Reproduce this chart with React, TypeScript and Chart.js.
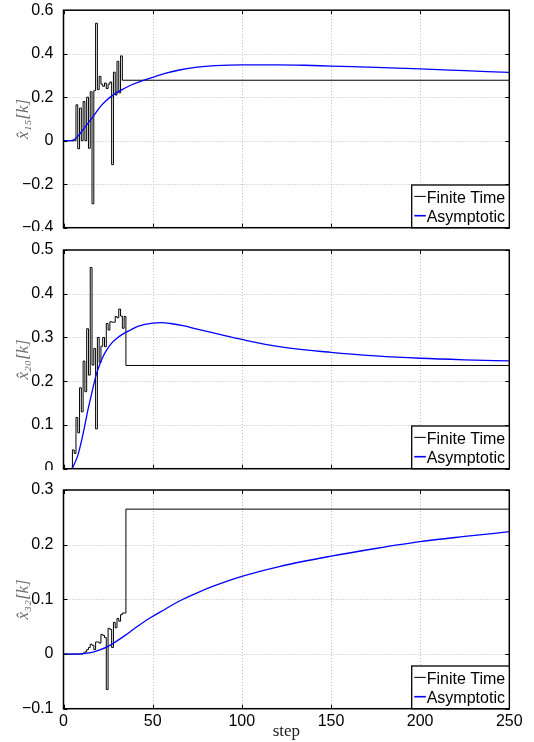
import React, { useEffect, useRef } from "react";
import { Chart, registerables } from "chart.js";

Chart.register(...registerables);

// ---------- data ----------
const xTickValues = [0, 50, 100, 150, 200, 250];
const stepMax = 250;

// Finite-time estimate, one value per step k = 0, 1, 2, ...; afterwards it stays at the settled value
const finite15 = [
  0, 0, 0, 0, 0, 0, 0, 0.165, -0.037, 0.15, 0.0, 0.18, 0.0, 0.2, -0.035, 0.225, -0.29,
  0.23, 0.54, 0.235, 0.296, 0.26, 0.25, 0.265, 0.24, 0.26, 0.27, -0.11, 0.315, 0.21,
  0.365, 0.22, 0.39,
];
const settled15 = 0.278;

const finite20 = [
  0, 0, 0, 0, 0, 0.043, 0.035, 0.117, 0.082, 0.185, 0.13, 0.246, 0.176, 0.32, 0.214,
  0.46, 0.237, 0.275, 0.091, 0.3, 0.243, 0.28, 0.3, 0.279, 0.332, 0.317, 0.336, 0.335,
  0.335, 0.348, 0.345, 0.365, 0.349, 0.321, 0.348,
];
const settled20 = 0.236;

const finite32 = [
  0, 0, 0, 0, 0, 0, 0, 0, 0, 0, 0, 0.002, 0.004, 0.008, 0.012, 0.018, 0.016, 0.008,
  0.022, 0.022, 0.02, 0.036, 0.034, 0.03, -0.065, 0.047, 0.045, 0.012, 0.058, 0.048,
  0.065, 0.06, 0.072, 0.075, 0.075,
];
const settled32 = 0.265;

// Asymptotic estimate, sampled at the steps listed
const asymSteps15 = [0, 4, 6, 8, 10, 12, 15, 18, 21, 24, 27, 30, 34, 38, 44, 50, 57, 65, 75, 85, 100, 120, 135, 150, 175, 200, 225, 250];
const asym15 = [0, 0, 0.005, 0.02, 0.04, 0.062, 0.093, 0.127, 0.16, 0.185, 0.205, 0.222, 0.24, 0.256, 0.275, 0.291, 0.31, 0.325, 0.338, 0.345, 0.349, 0.349, 0.347, 0.343, 0.337, 0.33, 0.322, 0.314];

const asymSteps20 = [0, 4, 5, 6, 8, 10, 12, 14, 16, 18, 20, 22, 24, 27, 30, 33, 37, 42, 50, 55, 60, 67, 75, 87, 100, 121, 150, 175, 200, 225, 250];
const asym20 = [0, 0, 0.002, 0.01, 0.03, 0.062, 0.1, 0.14, 0.175, 0.21, 0.235, 0.255, 0.27, 0.287, 0.298, 0.307, 0.316, 0.326, 0.333, 0.334, 0.332, 0.327, 0.319, 0.3075, 0.2955, 0.279, 0.266, 0.258, 0.2525, 0.249, 0.2465];

const asymSteps32 = [0, 8, 12, 16, 20, 25, 30, 35, 40, 48, 57, 65, 75, 84, 100, 121, 150, 175, 200, 225, 250];
const asym32 = [0, 0, 0.001, 0.003, 0.007, 0.014, 0.024, 0.035, 0.047, 0.065, 0.082, 0.097, 0.112, 0.124, 0.142, 0.16, 0.179, 0.193, 0.2055, 0.215, 0.2237];

const legendLabels = ["Finite Time", "Asymptotic"];
const seriesColors = ["#000000", "#0000ff"];

// ---------- layout ----------
const W = 534;
const AREA_LEFT = 63.5;
const AREA_RIGHT = 509.3;
const TICK_FONT = "'Liberation Sans', Arial, Helvetica, sans-serif";
const SERIF = "'Liberation Serif', 'Times New Roman', serif";

type Panel = {
  top: number;
  height: number;
  areaTop: number;
  areaBottom: number;
  yMin: number;
  yMax: number;
  yStep: number;
  yLabel: string;
  finite: number[];
  settled: number;
  asymK: number[];
  asym: number[];
  showX: boolean;
};

const panels: Panel[] = [
  { top: 0, height: 231, areaTop: 10.2, areaBottom: 227.7, yMin: -0.4, yMax: 0.6, yStep: 0.2, yLabel: "x\u0302\u2081\u2085[k]", finite: finite15, settled: settled15, asymK: asymSteps15, asym: asym15, showX: false },
  { top: 240, height: 230, areaTop: 10, areaBottom: 228.7, yMin: 0, yMax: 0.5, yStep: 0.1, yLabel: "x\u0302\u2082\u2080[k]", finite: finite20, settled: settled20, asymK: asymSteps20, asym: asym20, showX: false },
  { top: 480, height: 262, areaTop: 10, areaBottom: 228.7, yMin: -0.1, yMax: 0.3, yStep: 0.1, yLabel: "x\u0302\u2083\u2082[k]", finite: finite32, settled: settled32, asymK: asymSteps32, asym: asym32, showX: true },
];

const fmt = (v: number) => {
  if (Math.abs(v) < 1e-9) return "0";
  const s = Math.abs(v).toFixed(1);
  return v < 0 ? "\u2212" + s : s;
};

const matlabPlugin = {
  id: "matlabBox",
  beforeDatasetsDraw(chart: any) {
    const { ctx, chartArea: a, scales } = chart;
    const xs = scales.x;
    const ys = scales.y;
    ctx.save();
    ctx.strokeStyle = "#bdbdbd";
    ctx.lineWidth = 1;
    ctx.setLineDash([1, 2]);
    ctx.beginPath();
    xs.ticks.forEach((t: any) => {
      const px = xs.getPixelForValue(t.value);
      if (px > a.left + 2 && px < a.right - 2) {
        const x = Math.round(px) + 0.5;
        ctx.moveTo(x, a.top);
        ctx.lineTo(x, a.bottom);
      }
    });
    ys.ticks.forEach((t: any) => {
      const py = ys.getPixelForValue(t.value);
      if (py > a.top + 2 && py < a.bottom - 2) {
        const y = Math.round(py) + 0.5;
        ctx.moveTo(a.left, y);
        ctx.lineTo(a.right, y);
      }
    });
    ctx.stroke();
    ctx.restore();
  },
  afterDatasetsDraw(chart: any) {
    const { ctx, chartArea: a, scales } = chart;
    const xs = scales.x;
    const ys = scales.y;
    ctx.save();
    ctx.setLineDash([]);
    // inward ticks
    ctx.strokeStyle = "#000";
    ctx.lineWidth = 1;
    ctx.beginPath();
    const tl = 4;
    xs.ticks.forEach((t: any) => {
      const x = Math.round(xs.getPixelForValue(t.value)) + 0.5;
      ctx.moveTo(x, a.bottom);
      ctx.lineTo(x, a.bottom - tl);
      ctx.moveTo(x, a.top);
      ctx.lineTo(x, a.top + tl);
    });
    ys.ticks.forEach((t: any) => {
      const y = Math.round(ys.getPixelForValue(t.value)) + 0.5;
      ctx.moveTo(a.left, y);
      ctx.lineTo(a.left + tl, y);
      ctx.moveTo(a.right, y);
      ctx.lineTo(a.right - tl, y);
    });
    ctx.stroke();
    // box
    ctx.lineWidth = 1.5;
    ctx.strokeRect(a.left, a.top, a.right - a.left, a.bottom - a.top);

    // legend (bottom-right, inside the axes)
    const R = a.right;
    const B = a.bottom;
    const lw = 97.6;
    const lh = 42.7;
    ctx.fillStyle = "#fff";
    ctx.fillRect(R - lw, B - lh, lw, lh);
    ctx.lineWidth = 1.3;
    ctx.strokeStyle = "#000";
    ctx.strokeRect(R - lw, B - lh, lw, lh);
    const rows = [
      { lineY: B - 31.3, base: B - 24.4 },
      { lineY: B - 12, base: B - 5.7 },
    ];
    legendLabels.forEach((label, i) => {
      const r = rows[i];
      ctx.strokeStyle = seriesColors[i];
      ctx.lineWidth = i === 1 ? 1.6 : 1;
      ctx.beginPath();
      ctx.moveTo(R - 95, r.lineY);
      ctx.lineTo(R - 83.5, r.lineY);
      ctx.stroke();
      ctx.fillStyle = "#000";
      ctx.font = `16px ${TICK_FONT}`;
      ctx.textAlign = "left";
      ctx.textBaseline = "alphabetic";
      ctx.fillText(label, R - 82.6, r.base);
    });
    ctx.restore();
  },
};

function PanelChart({ p }: { p: Panel }) {
  const ref = useRef<HTMLCanvasElement | null>(null);
  useEffect(() => {
    if (!ref.current) return;
    const finitePts = p.finite.map((v, k) => ({ x: k, y: v }));
    finitePts.push({ x: p.finite.length, y: p.settled });
    finitePts.push({ x: stepMax, y: p.settled });
    const asymPts = p.asymK.map((k, i) => ({ x: k, y: p.asym[i] }));
    const chart = new Chart(ref.current, {
      type: "line",
      data: {
        datasets: [
          {
            label: legendLabels[0],
            data: finitePts,
            borderColor: seriesColors[0],
            borderWidth: 1,
            stepped: "before",
            pointRadius: 0,
            fill: false,
            order: 1,
          },
          {
            label: legendLabels[1],
            data: asymPts,
            borderColor: seriesColors[1],
            borderWidth: 1.3,
            pointRadius: 0,
            fill: false,
            cubicInterpolationMode: "monotone",
            order: 0,
          },
        ],
      },
      options: {
        animation: false,
        responsive: false,
        maintainAspectRatio: false,
        events: [],
        layout: { padding: { top: p.areaTop, right: W - AREA_RIGHT, left: 0, bottom: 0 } },
        plugins: { legend: { display: false }, tooltip: { enabled: false } },
        scales: {
          x: {
            type: "linear",
            min: 0,
            max: stepMax,
            grid: { display: false },
            border: { display: false },
            afterBuildTicks: (s: any) => {
              s.ticks = xTickValues.map((v) => ({ value: v }));
            },
            ticks: {
              display: p.showX,
              padding: -5,
              color: "#000",
              maxRotation: 0,
              autoSkip: false,
              font: { family: TICK_FONT, size: 16 },
            },
            title: {
              display: p.showX,
              text: "step",
              color: "#222",
              font: { family: SERIF, size: 17, lineHeight: 1 },
              padding: { top: 0, bottom: 1.8 },
            },
            afterFit: (s: any) => {
              s.height = p.height - p.areaBottom;
              s.paddingLeft = 0;
              s.paddingRight = 0;
            },
          },
          y: {
            type: "linear",
            min: p.yMin,
            max: p.yMax,
            grid: { display: false },
            border: { display: false },
            ticks: {
              stepSize: p.yStep,
              padding: 2,
              color: "#000",
              font: { family: TICK_FONT, size: 16 },
              callback: (v: any) => fmt(Number(v)),
            },
            title: {
              display: true,
              text: p.yLabel,
              color: "#6a6a6a",
              font: { family: SERIF, size: 17, style: "italic", lineHeight: 1.2 },
              padding: { top: 13, bottom: 0 },
            },
            afterFit: (s: any) => {
              s.width = AREA_LEFT;
              s.paddingTop = 0;
              s.paddingBottom = 0;
            },
          },
        },
      } as any,
      plugins: [matlabPlugin],
    });
    return () => chart.destroy();
  }, [p]);
  return (
    <canvas
      ref={ref}
      width={W}
      height={p.height}
      style={{ position: "absolute", left: 0, top: p.top, width: W, height: p.height, display: "block" }}
    />
  );
}

export default function App() {
  return (
    <div style={{ position: "absolute", left: 0, top: 0, width: W, height: 742, background: "#fff", overflow: "hidden" }}>
      {panels.map((p, i) => (
        <PanelChart key={i} p={p} />
      ))}
    </div>
  );
}
